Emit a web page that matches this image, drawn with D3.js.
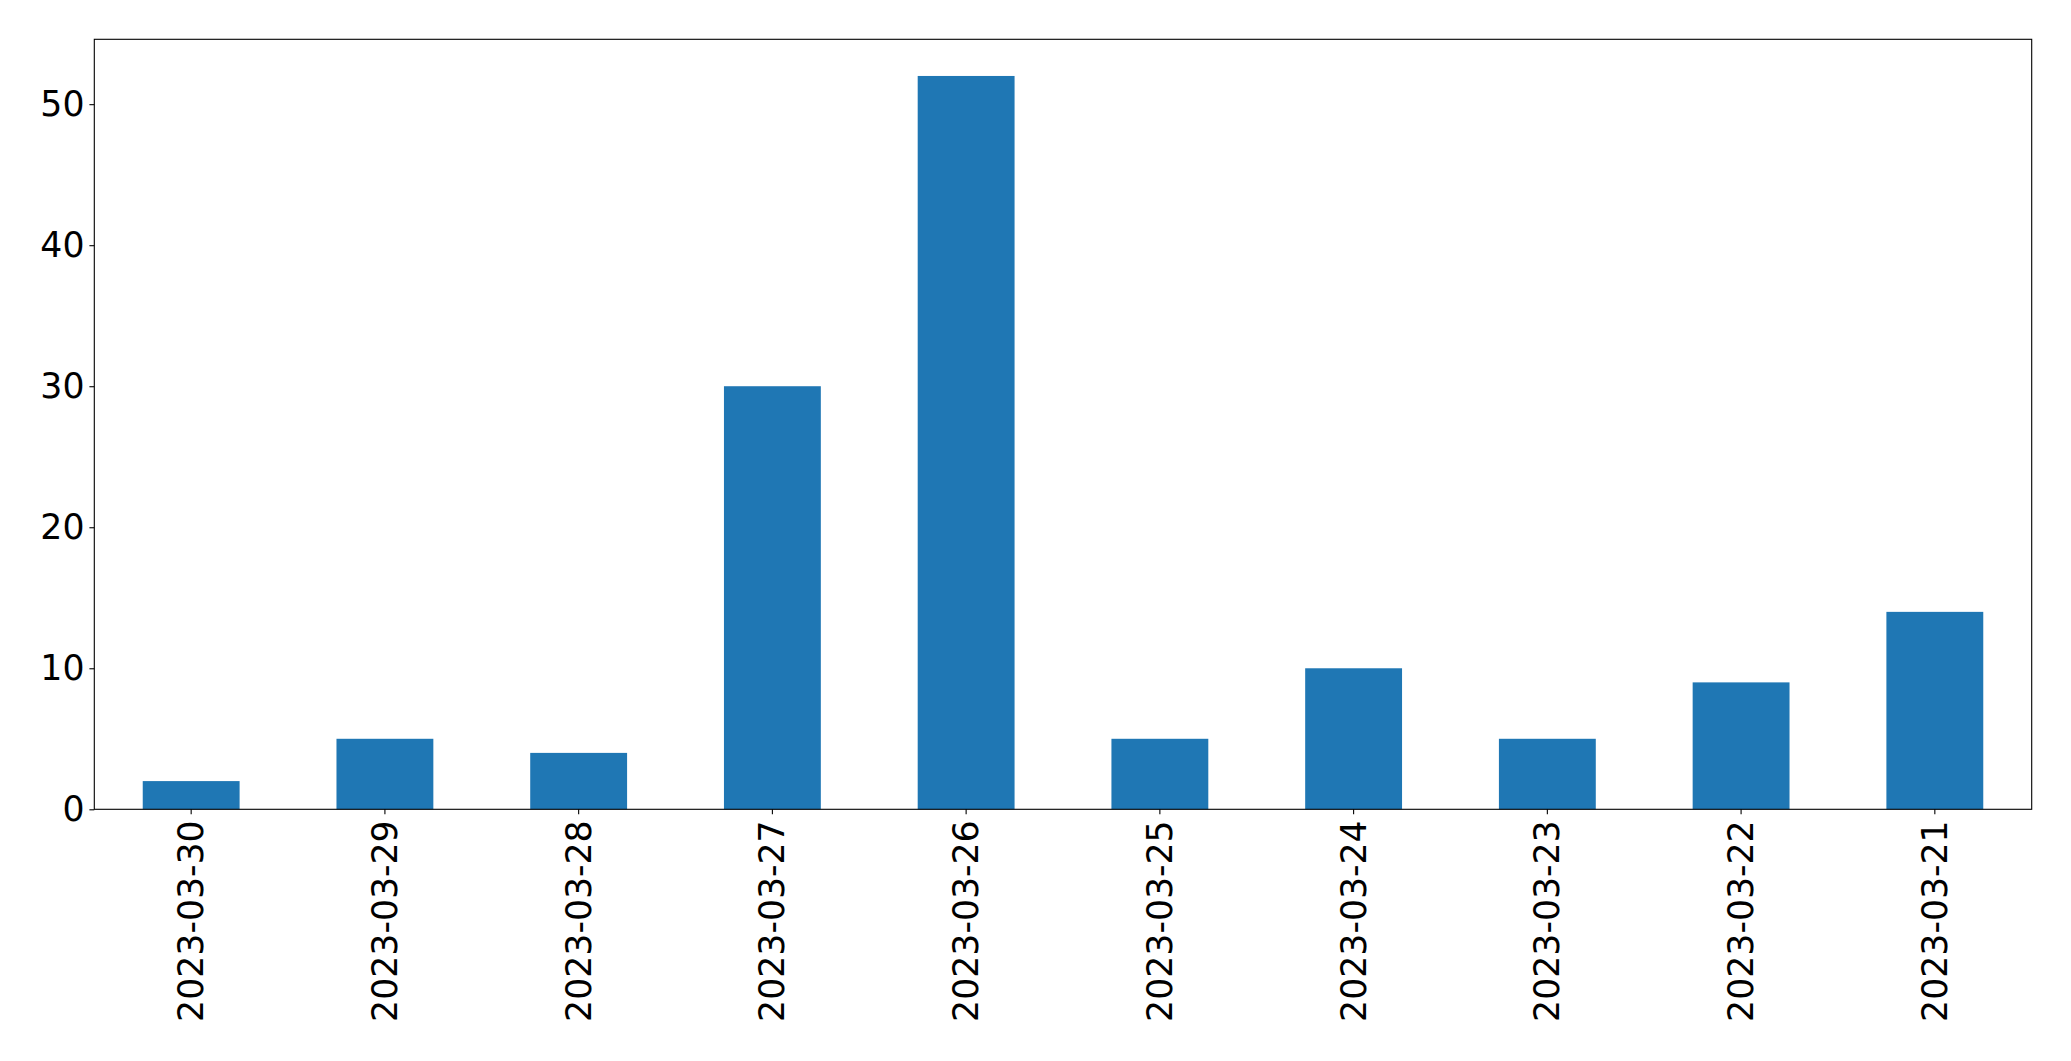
<!DOCTYPE html>
<html><head><meta charset="utf-8">
<script src="https://cdn.jsdelivr.net/npm/d3@7"></script>
<style>html,body{margin:0;padding:0;background:#fff;}svg{display:block;}</style>
</head><body>
<script>
const categories = ["2023-03-30","2023-03-29","2023-03-28","2023-03-27","2023-03-26","2023-03-25","2023-03-24","2023-03-23","2023-03-22","2023-03-21"];
const values = [2,5,4,30,52,5,10,5,9,14];
const yTicks = [0,10,20,30,40,50];

const W = 2071, H = 1061;
const m = {left: 94.3, top: 39.3, right: 2071 - 2031.7, bottom: 1061 - 809.3};
const svg = d3.select("body").append("svg").attr("width", W).attr("height", H);

const x = d3.scaleBand().domain(categories).range([m.left, W - m.right]).paddingInner(0.5).paddingOuter(0.25);
const y = d3.scaleLinear().domain([0, d3.max(values) * 1.05]).range([H - m.bottom, m.top]);

svg.append("g").selectAll("rect").data(values).join("rect")
  .attr("x", (d, i) => x(categories[i]))
  .attr("width", x.bandwidth())
  .attr("y", d => y(d))
  .attr("height", d => y(0) - y(d))
  .attr("fill", "#1f77b4");

const fontFam = "'DejaVu Sans', sans-serif";
const yAxis = svg.append("g").attr("transform", `translate(${m.left},0)`)
  .call(d3.axisLeft(y).tickValues(yTicks).tickSize(4.9).tickPadding(4.9).tickFormat(d3.format("d")));
yAxis.select(".domain").remove();
yAxis.selectAll("line").attr("stroke", "#000").attr("stroke-width", 1.1);
yAxis.selectAll("text").attr("font-family", fontFam).attr("font-size", 34.7).attr("fill", "#000");

const xAxis = svg.append("g").attr("transform", `translate(0,${H - m.bottom})`)
  .call(d3.axisBottom(x).tickSize(4.9).tickPadding(0));
xAxis.select(".domain").remove();
xAxis.selectAll("line").attr("stroke", "#000").attr("stroke-width", 1.1);
xAxis.selectAll("text")
  .attr("font-family", fontFam).attr("font-size", 34.7).attr("fill", "#000")
  .attr("dy", null).attr("y", null)
  .attr("text-anchor", "end")
  .attr("dominant-baseline", "central")
  .attr("transform", "translate(0,11) rotate(-90)");

svg.append("rect")
  .attr("x", m.left).attr("y", m.top)
  .attr("width", W - m.right - m.left).attr("height", H - m.bottom - m.top)
  .attr("fill", "none").attr("stroke", "#000").attr("stroke-width", 1.1);
</script>
</body></html>
